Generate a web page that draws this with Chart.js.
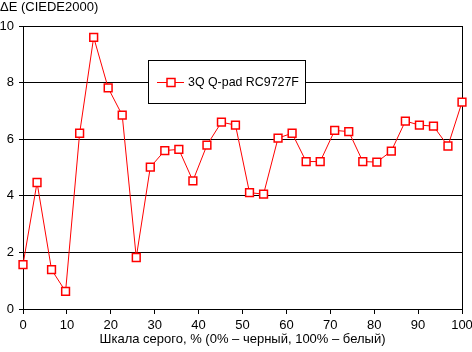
<!DOCTYPE html>
<html>
<head>
<meta charset="utf-8">
<script src="https://cdn.jsdelivr.net/npm/chart.js@4"></script>
<style>
  html, body { margin: 0; padding: 0; background: #fff; }
  canvas { display: block; }
</style>
</head>
<body>
<canvas id="chart" width="472" height="352"></canvas>
<script>
// шкала серого, % (по оси X)
const grayLevels = [0, 3.2, 6.5, 9.7, 12.9, 16.1, 19.4, 22.6, 25.8, 29.0, 32.3, 35.5, 38.7, 41.9, 45.2, 48.4,
  51.6, 54.8, 58.1, 61.3, 64.5, 67.7, 71.0, 74.2, 77.4, 80.6, 83.9, 87.1, 90.3, 93.5, 96.8, 100];
// ΔE (CIEDE2000)
const deltaE = [1.57, 4.47, 1.39, 0.62, 6.21, 9.6, 7.81, 6.85, 1.82, 5.01, 5.6, 5.64, 4.53, 5.79, 6.6, 6.5,
  4.11, 4.06, 6.04, 6.21, 5.21, 5.21, 6.31, 6.27, 5.21, 5.19, 5.58, 6.64, 6.5, 6.46, 5.76, 7.31];
const seriesName = '3Q Q-pad RC9727F';
const yTitle = 'ΔE (CIEDE2000)';
const xTitle = 'Шкала серого, % (0% – черный, 100% – белый)';

const FONT = '"Liberation Sans", Arial, sans-serif';

// заголовок оси Y и легенда в рамке
const overlayPlugin = {
  id: 'overlay',
  afterDatasetsDraw(chart) {
    const ctx = chart.ctx;
    ctx.save();
    ctx.font = '13px ' + FONT;
    ctx.fillStyle = '#000';
    ctx.textBaseline = 'middle';
    ctx.textAlign = 'left';
    ctx.fillText(yTitle, 0, 7);

    // рамка легенды
    ctx.fillStyle = '#fff';
    ctx.fillRect(148.5, 60.5, 157, 43);
    ctx.strokeStyle = '#000';
    ctx.lineWidth = 1;
    ctx.strokeRect(148.5, 60.5, 157, 43);

    const ly = 82;
    ctx.strokeStyle = 'red';
    ctx.beginPath();
    ctx.moveTo(157, ly + 0.5);
    ctx.lineTo(184, ly + 0.5);
    ctx.stroke();
    ctx.fillStyle = '#fff';
    ctx.lineWidth = 1.5;
    ctx.fillRect(167, ly - 3.5, 8, 8);
    ctx.strokeRect(167, ly - 3.5, 8, 8);

    ctx.font = '12.4px ' + FONT;
    ctx.fillStyle = '#000';
    ctx.fillText(chart.data.datasets[0].label, 188, ly + 1);
    ctx.restore();
  }
};

const ctx = document.getElementById('chart').getContext('2d');
new Chart(ctx, {
  type: 'line',
  data: {
    labels: grayLevels,
    datasets: [{
      label: seriesName,
      data: grayLevels.map((x, i) => ({ x: x, y: deltaE[i] })),
      borderColor: 'red',
      borderWidth: 1,
      tension: 0,
      clip: false,
      pointStyle: 'rect',
      pointRadius: 5.5,
      pointHoverRadius: 5.5,
      pointBackgroundColor: '#fff',
      pointBorderColor: 'red',
      pointBorderWidth: 1.5
    }]
  },
  options: {
    responsive: false,
    animation: false,
    layout: { padding: { top: 26, right: 0, left: 0, bottom: 0 } },
    plugins: {
      legend: { display: false },
      tooltip: { enabled: false }
    },
    scales: {
      x: {
        type: 'linear',
        min: 0,
        max: 100,
        afterFit: s => { s.height = 43; s.paddingLeft = 0; s.paddingRight = 10; },
        ticks: { stepSize: 10, color: '#000', font: { family: FONT, size: 13 }, padding: 4, maxRotation: 0 },
        grid: {
          color: c => (c.tick && c.tick.value === 100 ? '#000' : 'rgba(0,0,0,0)'),
          tickColor: '#000',
          tickLength: 5,
          lineWidth: 1
        },
        border: { display: true, color: '#000' },
        title: {
          display: true,
          text: xTitle,
          color: '#000',
          font: { family: FONT, size: 13 },
          padding: { top: 0, bottom: 5 }
        }
      },
      y: {
        min: 0,
        max: 10,
        afterFit: s => { s.width = 23; s.paddingTop = 0; s.paddingBottom = 0; },
        ticks: { stepSize: 2, color: '#000', font: { family: FONT, size: 13 }, padding: 5 },
        grid: { color: '#000', tickColor: '#000', tickLength: 4, lineWidth: 1 },
        border: { display: true, color: '#000' }
      }
    }
  },
  plugins: [overlayPlugin]
});
</script>
</body>
</html>
